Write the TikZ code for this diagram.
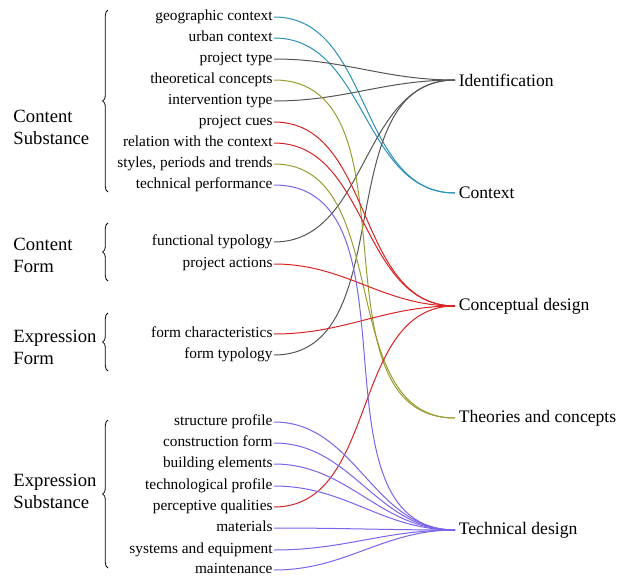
\documentclass[tikz,border=0pt]{standalone}
\usepackage{fontspec}
\setmainfont{Liberation Serif}
\usetikzlibrary{decorations.pathreplacing}

\definecolor{ctxblue}{RGB}{43,145,185}
\definecolor{idgray}{RGB}{85,85,85}
\definecolor{tcolive}{RGB}{155,155,50}
\definecolor{cdred}{RGB}{215,35,35}
\definecolor{tdviolet}{RGB}{120,100,235}

\tikzset{every picture/.style={line width=0.75pt}}
\tikzset{
  item/.style={anchor=east,inner sep=0.75pt,font=\fontsize{11.5}{13}\selectfont,text height=1.6ex,text depth=0.45ex},
  target/.style={anchor=west,inner sep=2.5pt,font=\fontsize{13.2}{16}\selectfont},
  group/.style={anchor=west,align=left,inner sep=0pt,font=\fontsize{14}{16.5}\selectfont},
  grpbrace/.style={decorate,decoration={brace,amplitude=4pt},line width=0.6pt},
  link/.style={out=0,in=180},
  ctxline/.style={draw=ctxblue},
  idline/.style={draw=idgray},
  tcline/.style={draw=tcolive},
  cdline/.style={draw=cdred},
  tdline/.style={draw=tdviolet},
}

\begin{document}
\begin{tikzpicture}[x=0.75pt,y=0.75pt,yscale=-1,xscale=1]
\useasboundingbox (0,0) rectangle (618,578);

% Group labels
\draw (13,127) node [group] (csub) {Content\\Substance};
\draw (13,255) node [group] (cform) {Content\\Form};
\draw (13,347) node [group] (eform) {Expression\\Form};
\draw (13,491) node [group] (esub) {Expression\\Substance};

%Braces
\draw [grpbrace] (108,192) -- (108,10);
\draw [grpbrace] (108,281) -- (108,223);
\draw [grpbrace] (108,371) -- (108,313);
\draw [grpbrace] (108,568) -- (108,420);

% Text Node
\draw (274,17) node [item] (geo) {geographic context};
\draw (274,38) node [item] (urban) {urban context};
\draw (274,59) node [item] (ptype) {project type};
\draw (274,80) node [item] (theo) {theoretical concepts};
\draw (274,101) node [item] (interv) {intervention type};
\draw (274,122) node [item] (cues) {project cues};
\draw (274,143) node [item] (relctx) {relation with the context};
\draw (274,164) node [item] (styles) {styles, periods and trends};
\draw (274,185) node [item] (techperf) {technical performance};
\draw (274,242) node [item] (functy) {functional typology};
\draw (274,264) node [item] (pact) {project actions};
\draw (274,334) node [item] (formchar) {form characteristics};
\draw (274,355) node [item] (formty) {form typology};
\draw (274,422) node [item] (struct) {structure profile};
\draw (274,443) node [item] (constr) {construction form};
\draw (274,464) node [item] (bldg) {building elements};
\draw (274,486) node [item] (techprof) {technological profile};
\draw (274,507) node [item] (percept) {perceptive qualities};
\draw (274,528) node [item] (mat) {materials};
\draw (274,550) node [item] (sys) {systems and equipment};
\draw (274,570) node [item] (maint) {maintenance};

% Text Node
\draw (455,80) node [target] (ident) {Identification};
\draw (455,193) node [target] (context) {Context};
\draw (455,306) node [target] (concept) {Conceptual design};
\draw (455,418) node [target] (theories) {Theories and concepts};
\draw (455,530) node [target] (techdes) {Technical design};

%Curve Lines
\draw [ctxline] (geo.east) to [link] (context.west);
\draw [ctxline] (urban.east) to [link] (context.west);
\draw [idline] (ptype.east) to [link] (ident.west);
\draw [idline] (interv.east) to [link] (ident.west);
\draw [idline] (functy.east) to [link] (ident.west);
\draw [idline] (formty.east) to [link] (ident.west);
\draw [tcline] (theo.east) to [link] (theories.west);
\draw [tcline] (styles.east) to [link] (theories.west);
\draw [cdline] (cues.east) to [link] (concept.west);
\draw [cdline] (relctx.east) to [link] (concept.west);
\draw [cdline] (pact.east) to [link] (concept.west);
\draw [cdline] (formchar.east) to [link] (concept.west);
\draw [cdline] (percept.east) to [link] (concept.west);
\draw [tdline] (techperf.east) to [link] (techdes.west);
\draw [tdline] (struct.east) to [link] (techdes.west);
\draw [tdline] (constr.east) to [link] (techdes.west);
\draw [tdline] (bldg.east) to [link] (techdes.west);
\draw [tdline] (techprof.east) to [link] (techdes.west);
\draw [tdline] (mat.east) to [link] (techdes.west);
\draw [tdline] (sys.east) to [link] (techdes.west);
\draw [tdline] (maint.east) to [link] (techdes.west);

\end{tikzpicture}
\end{document}
